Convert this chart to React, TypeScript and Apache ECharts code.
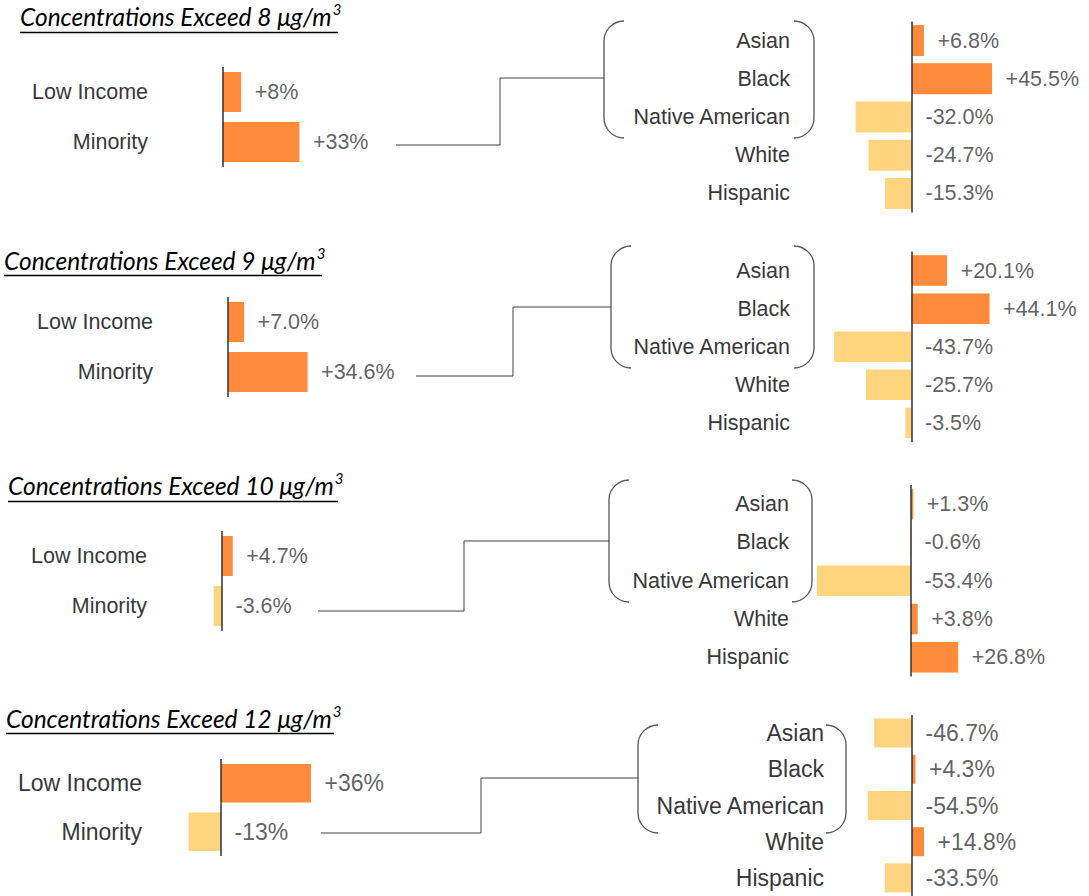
import React, { useEffect, useRef } from 'react';
import * as echarts from 'echarts';

// ---------- data ----------
const thresholds = ['8', '9', '10', '12'];
const groupCategories = ['Low Income', 'Minority'];
const raceCategories = ['Asian', 'Black', 'Native American', 'White', 'Hispanic'];

const groupValues8 = [8, 33];
const groupValues9 = [7.0, 34.6];
const groupValues10 = [4.7, -3.6];
const groupValues12 = [36, -13];
const groupDecimals = [0, 1, 1, 0];

const raceValues8 = [6.8, 45.5, -32.0, -24.7, -15.3];
const raceValues9 = [20.1, 44.1, -43.7, -25.7, -3.5];
const raceValues10 = [1.3, -0.6, -53.4, 3.8, 26.8];
const raceValues12 = [-46.7, 4.3, -54.5, 14.8, -33.5];
const raceDecimals = [1, 1, 1, 1];

const groupValues = [groupValues8, groupValues9, groupValues10, groupValues12];
const raceValues = [raceValues8, raceValues9, raceValues10, raceValues12];

// ---------- styles / layout ----------
const ORANGE = '#FE8A3B';
const YELLOW = '#FFD47F';
const TEXT = '#383838';
const LINE = '#404040';
const FONT = 'Liberation Sans';
const TITLE_FONT = 'Lato';
const TITLE_SIZE = 24.5;

const leftLayout = [
  { zeroX: 222.5, scale: 2.33, top: 67, band: 50, barW: 40, labelEnd: 148, end: 400, font: 21.5 },
  { zeroX: 228, scale: 2.3, top: 297, band: 50, barW: 40, labelEnd: 153, end: 400, font: 21.5 },
  { zeroX: 222, scale: 2.3, top: 531, band: 50, barW: 40, labelEnd: 147, end: 400, font: 21.5 },
  { zeroX: 221, scale: 2.5, top: 759, band: 48.5, barW: 38.5, labelEnd: 142, end: 400, font: 23 },
];
const rightLayout = [
  { zeroX: 912, scale: 1.76, top: 21.5, band: 38.2, barW: 31, labelEnd: 790, end: 1080, font: 21.5 },
  { zeroX: 911.5, scale: 1.77, top: 251.5, band: 38.1, barW: 30.5, labelEnd: 790, end: 1080, font: 21.5 },
  { zeroX: 911, scale: 1.76, top: 485, band: 38.3, barW: 30.5, labelEnd: 789, end: 1080, font: 21.5 },
  { zeroX: 912, scale: 0.81, top: 715, band: 36.75, barW: 29, labelEnd: 824, end: 1080, font: 23 },
];
const titleLayout = [
  { x: 20, base: 29, ul: 32.5, ulEnd: 338 },
  { x: 4, base: 273, ul: 275.5, ulEnd: 322 },
  { x: 8, base: 498, ul: 501.5, ulEnd: 338 },
  { x: 6, base: 731, ul: 733.5, ulEnd: 334 },
];
const braceLayout = [
  { l: 604, r: 814, top: 21, bottom: 138, cy: 78, from: [396, 145], mid: 500 },
  { l: 611, r: 814, top: 246, bottom: 368, cy: 307, from: [416, 376], mid: 513 },
  { l: 609, r: 812, top: 480, bottom: 602, cy: 541, from: [318, 611], mid: 464 },
  { l: 638, r: 846, top: 725, bottom: 833, cy: 778, from: [321, 833], mid: 481 },
];

const fmt = (v: number, d: number) => (v > 0 ? '+' : '') + v.toFixed(d) + '%';

function bracePath(b: any) {
  const r = 20;
  const k = 0.55 * r;
  const L = `M ${b.l + r} ${b.top} C ${b.l + r - k} ${b.top} ${b.l} ${b.top + r - k} ${b.l} ${b.top + r} L ${b.l} ${b.bottom - r} C ${b.l} ${b.bottom - r + k} ${b.l + r - k} ${b.bottom} ${b.l + r} ${b.bottom}`;
  const R = `M ${b.r - r} ${b.top} C ${b.r - r + k} ${b.top} ${b.r} ${b.top + r - k} ${b.r} ${b.top + r} L ${b.r} ${b.bottom - r} C ${b.r} ${b.bottom - r + k} ${b.r - r + k} ${b.bottom} ${b.r - r} ${b.bottom}`;
  return L + ' ' + R;
}

export default function App() {
  const ref = useRef<HTMLDivElement>(null);

  useEffect(() => {
    document.body.style.margin = '0';
    if (!ref.current) return;

    braceLayout.forEach((b, i) => {
      echarts.graphic.registerShape('brace' + i, echarts.graphic.extendPath(bracePath(b), {}) as any);
    });

    const canvas = document.createElement('canvas');
    const ctx = canvas.getContext('2d')!;
    ctx.font = `italic ${TITLE_SIZE}px ${TITLE_FONT}`;

    const grids: any[] = [];
    const xAxes: any[] = [];
    const yAxes: any[] = [];
    const series: any[] = [];

    const addChart = (lay: any, cats: string[], vals: number[], dec: number) => {
      const idx = grids.length;
      const left = lay.labelEnd + 10;
      const width = lay.end - left;
      const height = lay.band * cats.length;
      grids.push({ left, top: lay.top, width, height, containLabel: false });
      xAxes.push({
        type: 'value', gridIndex: idx, show: false,
        min: -(lay.zeroX - left) / lay.scale,
        max: (left + width - lay.zeroX) / lay.scale,
        splitLine: { show: false },
      });
      yAxes.push({
        type: 'category', gridIndex: idx, data: cats, inverse: true,
        axisLine: { show: false }, axisTick: { show: false }, splitLine: { show: false },
        axisLabel: { color: TEXT, fontSize: lay.font, fontFamily: FONT, margin: 10, padding: [4, 0, 0, 0] },
      });
      series.push({
        type: 'bar', xAxisIndex: idx, yAxisIndex: idx, barWidth: lay.barW,
        data: vals.map((v) => ({ value: v, itemStyle: { color: v >= 0 ? ORANGE : YELLOW } })),
        markLine: {
          silent: true, symbol: ['none', 'none'], animation: false,
          label: { show: false },
          lineStyle: { color: '#303030', width: 1.5, type: 'solid' },
          data: [{ xAxis: 0 }],
        },
      });
      const labels = vals.map((v) => fmt(v, dec));
      series.push({
        type: 'scatter', xAxisIndex: idx, yAxisIndex: idx, symbolSize: 1,
        itemStyle: { color: 'rgba(0,0,0,0)' },
        data: vals.map((v, k) => [Math.max(v, 0), cats[k]]),
        label: {
          show: true, position: 'right', distance: 13, color: TEXT,
          fontSize: lay.font, fontFamily: FONT, padding: [4, 0, 0, 0],
          formatter: (p: any) => labels[p.dataIndex],
        },
      });
    };

    const graphic: any[] = [];
    thresholds.forEach((t, i) => {
      addChart(leftLayout[i], groupCategories, groupValues[i], groupDecimals[i]);
      addChart(rightLayout[i], raceCategories, raceValues[i], raceDecimals[i]);

      const tl = titleLayout[i];
      const main = `Concentrations Exceed ${t} μg/m`;
      const w = ctx.measureText(main).width;
      graphic.push({
        type: 'text', x: tl.x, y: tl.base,
        style: { text: main, fill: '#000', font: `italic ${TITLE_SIZE}px ${TITLE_FONT}`, textAlign: 'left', textVerticalAlign: 'bottom' },
      });
      graphic.push({
        type: 'text', x: tl.x + w + 1, y: tl.base - 13,
        style: { text: '3', fill: '#000', font: `italic 15px ${TITLE_FONT}`, textAlign: 'left', textVerticalAlign: 'bottom' },
      });
      graphic.push({
        type: 'line', shape: { x1: tl.x, y1: tl.ul, x2: tl.ulEnd, y2: tl.ul },
        style: { stroke: '#000', lineWidth: 1.5 },
      });

      const b = braceLayout[i];
      graphic.push({
        type: 'brace' + i, x: 0, y: 0,
        style: { stroke: '#555', fill: 'none', lineWidth: 1.3 },
      });
      graphic.push({
        type: 'polyline',
        shape: { points: [b.from, [b.mid, b.from[1]], [b.mid, b.cy], [b.l, b.cy]] },
        style: { stroke: LINE, fill: 'none', lineWidth: 1 },
      });
    });

    const chart = echarts.init(ref.current, null, { renderer: 'svg' });
    chart.setOption({
      animation: false,
      grid: grids,
      xAxis: xAxes,
      yAxis: yAxes,
      series,
      graphic,
    });
    return () => chart.dispose();
  }, []);

  return <div ref={ref} style={{ width: 1089, height: 896 }} />;
}
